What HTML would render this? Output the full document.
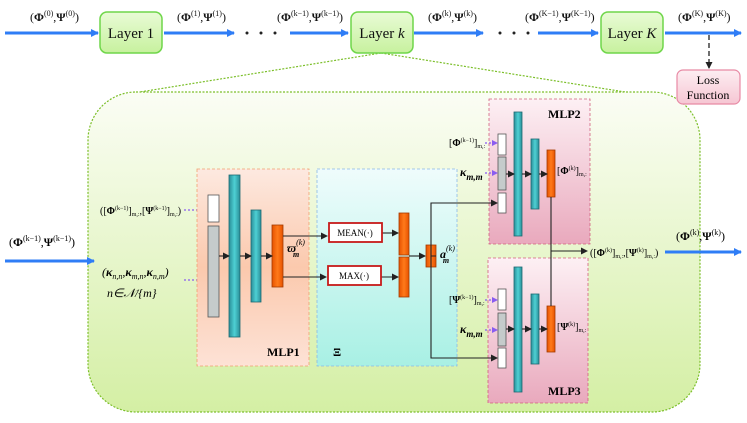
<!DOCTYPE html>
<html><head><meta charset="utf-8"><style>
body{margin:0;background:#fff;}
svg{display:block;font-family:"Liberation Serif",serif;}
</style></head><body>
<svg width="747" height="423" viewBox="0 0 747 423" xmlns="http://www.w3.org/2000/svg">
<defs>
<marker id="ab" markerWidth="8" markerHeight="8" refX="7" refY="4" orient="auto" markerUnits="userSpaceOnUse"><path d="M0,0 L8,4 L0,8 z" fill="#2f7df6"/></marker>
<marker id="ak" markerWidth="7" markerHeight="7" refX="6" refY="3.5" orient="auto" markerUnits="userSpaceOnUse"><path d="M0,0 L7,3.5 L0,7 z" fill="#222"/></marker>
<marker id="ap" markerWidth="6" markerHeight="6" refX="5" refY="3" orient="auto" markerUnits="userSpaceOnUse"><path d="M0,0 L6,3 L0,6 z" fill="#8a5cf0"/></marker>
<linearGradient id="gbig" x1="0" y1="0" x2="0" y2="1"><stop offset="0" stop-color="#fbfdf5"/><stop offset="1" stop-color="#d4efa4"/></linearGradient>
<linearGradient id="glayer" x1="0" y1="0" x2="0" y2="1"><stop offset="0" stop-color="#e9fbd6"/><stop offset="1" stop-color="#c7f19e"/></linearGradient>
<linearGradient id="gmlp1" x1="0" y1="0" x2="0" y2="1"><stop offset="0" stop-color="#fde9e0"/><stop offset="0.5" stop-color="#fbc9ad"/><stop offset="1" stop-color="#fde2d6"/></linearGradient>
<linearGradient id="gxi" x1="0" y1="0" x2="0" y2="1"><stop offset="0" stop-color="#effcfc"/><stop offset="1" stop-color="#a8f0e4"/></linearGradient>
<linearGradient id="gmlp2" x1="0" y1="0" x2="0" y2="1"><stop offset="0" stop-color="#fdf0f4"/><stop offset="1" stop-color="#e9a9bd"/></linearGradient>
<linearGradient id="gteal" x1="0" y1="0" x2="1" y2="0"><stop offset="0" stop-color="#2a8e98"/><stop offset="0.5" stop-color="#4ed0d4"/><stop offset="1" stop-color="#2a8e98"/></linearGradient>
<linearGradient id="gor" x1="0" y1="0" x2="1" y2="0"><stop offset="0" stop-color="#e65200"/><stop offset="0.5" stop-color="#ff7a1a"/><stop offset="1" stop-color="#e65200"/></linearGradient>
<linearGradient id="gloss" x1="0" y1="0" x2="0" y2="1"><stop offset="0" stop-color="#fdeef2"/><stop offset="1" stop-color="#f6c6d3"/></linearGradient>
</defs>

<line x1="381" y1="53" x2="140" y2="92" stroke="#7cbf2a" stroke-width="1.2" stroke-dasharray="2,1.5"/>
<line x1="381" y1="53" x2="625" y2="92" stroke="#7cbf2a" stroke-width="1.2" stroke-dasharray="2,1.5"/>
<rect x="88" y="92" width="612" height="320" rx="48" fill="url(#gbig)" stroke="#7cbf2a" stroke-width="1.2" stroke-dasharray="2,1.5"/>

<g stroke="#2f7df6" stroke-width="3" marker-end="url(#ab)">
<line x1="5" y1="33" x2="98" y2="33"/>
<line x1="164" y1="33" x2="234" y2="33"/>
<line x1="290" y1="33" x2="348" y2="33"/>
<line x1="414" y1="33" x2="483" y2="33"/>
<line x1="538" y1="33" x2="598" y2="33"/>
<line x1="665" y1="33" x2="741" y2="33"/>
</g>
<g fill="#222"><circle cx="247" cy="33" r="1.5"/><circle cx="261" cy="33" r="1.5"/><circle cx="275" cy="33" r="1.5"/><circle cx="500" cy="33" r="1.5"/><circle cx="514" cy="33" r="1.5"/><circle cx="528" cy="33" r="1.5"/></g>
<g fill="url(#glayer)" stroke="#6fd64a" stroke-width="1.5">
<rect x="100" y="12" width="62" height="41" rx="7"/>
<rect x="351" y="12" width="62" height="41" rx="7"/>
<rect x="601" y="12" width="62" height="41" rx="7"/>
</g>
<g font-size="15" text-anchor="middle" fill="#111">
<text x="131" y="38">Layer 1</text>
<text x="382" y="38">Layer <tspan font-style="italic">k</tspan></text>
<text x="632" y="38">Layer <tspan font-style="italic">K</tspan></text>
</g>
<g font-size="12" fill="#111">
<text x="30" y="21">(<tspan font-weight="bold">Φ</tspan><tspan font-size="8" dy="-5">(0)</tspan><tspan dy="5">,</tspan><tspan font-weight="bold">Ψ</tspan><tspan font-size="8" dy="-5">(0)</tspan><tspan dy="5">)</tspan></text>
<text x="177" y="21">(<tspan font-weight="bold">Φ</tspan><tspan font-size="8" dy="-5">(1)</tspan><tspan dy="5">,</tspan><tspan font-weight="bold">Ψ</tspan><tspan font-size="8" dy="-5">(1)</tspan><tspan dy="5">)</tspan></text>
<text x="277" y="21">(<tspan font-weight="bold">Φ</tspan><tspan font-size="8" dy="-5">(k−1)</tspan><tspan dy="5">,</tspan><tspan font-weight="bold">Ψ</tspan><tspan font-size="8" dy="-5">(k−1)</tspan><tspan dy="5">)</tspan></text>
<text x="428" y="21">(<tspan font-weight="bold">Φ</tspan><tspan font-size="8" dy="-5">(k)</tspan><tspan dy="5">,</tspan><tspan font-weight="bold">Ψ</tspan><tspan font-size="8" dy="-5">(k)</tspan><tspan dy="5">)</tspan></text>
<text x="525" y="21">(<tspan font-weight="bold">Φ</tspan><tspan font-size="8" dy="-5">(K−1)</tspan><tspan dy="5">,</tspan><tspan font-weight="bold">Ψ</tspan><tspan font-size="8" dy="-5">(K−1)</tspan><tspan dy="5">)</tspan></text>
<text x="678" y="21">(<tspan font-weight="bold">Φ</tspan><tspan font-size="8" dy="-5">(K)</tspan><tspan dy="5">,</tspan><tspan font-weight="bold">Ψ</tspan><tspan font-size="8" dy="-5">(K)</tspan><tspan dy="5">)</tspan></text>
</g>
<line x1="709" y1="35" x2="709" y2="68" stroke="#222" stroke-width="1.3" stroke-dasharray="5,3" marker-end="url(#ak)"/>
<rect x="677" y="70" width="63" height="34" rx="6" fill="url(#gloss)" stroke="#e88aa5" stroke-width="1.2"/>
<text x="708" y="84" font-size="12" text-anchor="middle">Loss</text>
<text x="708" y="99" font-size="12" text-anchor="middle">Function</text>

<line x1="5" y1="261" x2="94" y2="261" stroke="#2f7df6" stroke-width="3" marker-end="url(#ab)"/>
<text x="9" y="246" font-size="12">(<tspan font-weight="bold">Φ</tspan><tspan font-size="8" dy="-5">(k−1)</tspan><tspan dy="5">,</tspan><tspan font-weight="bold">Ψ</tspan><tspan font-size="8" dy="-5">(k−1)</tspan><tspan dy="5">)</tspan></text>
<text x="100" y="214" font-size="10">([<tspan font-weight="bold">Φ</tspan><tspan font-size="6" dy="-4">(k−1)</tspan><tspan dy="4">]</tspan><tspan font-size="6" dy="2">m,:</tspan><tspan dy="-2">,[</tspan><tspan font-weight="bold">Ψ</tspan><tspan font-size="6" dy="-4">(k−1)</tspan><tspan dy="4">]</tspan><tspan font-size="6" dy="2">m,:</tspan><tspan dy="-2">)</tspan></text>
<text x="102" y="276" font-size="12" font-style="italic">(<tspan font-weight="bold">κ</tspan><tspan font-size="8" dy="3">n,n</tspan><tspan dy="-3">,</tspan><tspan font-weight="bold">κ</tspan><tspan font-size="8" dy="3">m,n</tspan><tspan dy="-3">,</tspan><tspan font-weight="bold">κ</tspan><tspan font-size="8" dy="3">n,m</tspan><tspan dy="-3">)</tspan></text>
<text x="107" y="297" font-size="12" font-style="italic">n∈𝒩/{m}</text>
<line x1="184" y1="210" x2="206" y2="210" stroke="#8a5cf0" stroke-width="1.2" stroke-dasharray="2,2" marker-end="url(#ap)"/>
<line x1="184" y1="280" x2="206" y2="280" stroke="#8a5cf0" stroke-width="1.2" stroke-dasharray="2,2" marker-end="url(#ap)"/>

<rect x="197" y="169" width="112" height="197" fill="url(#gmlp1)" stroke="#f0a070" stroke-width="0.8" stroke-dasharray="3,2"/>
<rect x="208" y="195" width="11" height="27" fill="#fff" stroke="#555" stroke-width="0.8"/>
<rect x="208" y="226" width="11" height="91" fill="#c5cbcb" stroke="#555" stroke-width="0.8"/>
<rect x="229" y="175" width="11" height="162" fill="url(#gteal)" stroke="#1d6a72" stroke-width="0.8"/>
<rect x="251" y="210" width="10" height="92" fill="url(#gteal)" stroke="#1d6a72" stroke-width="0.8"/>
<rect x="272" y="225" width="11" height="62" fill="url(#gor)" stroke="#a33a00" stroke-width="0.8"/>
<g stroke="#222" stroke-width="1.1" marker-end="url(#ak)">
<line x1="219" y1="256" x2="229" y2="256"/>
<line x1="240" y1="256" x2="251" y2="256"/>
<line x1="261" y1="256" x2="272" y2="256"/>
</g>
<text x="287" y="252" font-size="12" font-style="italic" font-weight="bold">ϖ<tspan font-size="8" dy="-7" font-weight="normal">(k)</tspan><tspan font-size="8" dx="-12" dy="12">m</tspan></text>
<text x="267" y="356" font-size="12" font-weight="bold">MLP1</text>

<rect x="317" y="169" width="140" height="197" fill="url(#gxi)" stroke="#8ab8e6" stroke-width="0.8" stroke-dasharray="3,2"/>
<text x="333" y="356" font-size="12" font-weight="bold">Ξ</text>
<g stroke="#222" stroke-width="1.1" fill="none">
<polyline points="283,236 327,236" marker-end="url(#ak)"/>
<polyline points="283,277 326,277" marker-end="url(#ak)"/>
<line x1="382" y1="233" x2="398" y2="233" marker-end="url(#ak)"/>
<line x1="381" y1="277" x2="398" y2="277" marker-end="url(#ak)"/>
<line x1="409" y1="256" x2="425" y2="256" marker-end="url(#ak)"/>
</g>
<rect x="329" y="223" width="53" height="19" fill="#fff" stroke="#c61a1a" stroke-width="1.8"/>
<rect x="328" y="266" width="53" height="19" fill="#fff" stroke="#c61a1a" stroke-width="1.8"/>
<text x="355" y="236" font-size="9" text-anchor="middle">MEAN(·)</text>
<text x="354" y="279" font-size="9" text-anchor="middle">MAX(·)</text>
<rect x="399" y="213" width="10" height="42" fill="url(#gor)" stroke="#a33a00" stroke-width="0.8"/>
<rect x="399" y="257" width="10" height="40" fill="url(#gor)" stroke="#a33a00" stroke-width="0.8"/>
<rect x="426" y="245" width="10" height="22" fill="url(#gor)" stroke="#a33a00" stroke-width="0.8"/>
<text x="440" y="258" font-size="12" font-style="italic" font-weight="bold">a<tspan font-size="8" dy="-7" font-weight="normal">(k)</tspan><tspan font-size="8" dx="-12" dy="12">m</tspan></text>

<rect x="489" y="99" width="101" height="145" fill="url(#gmlp2)" stroke="#d0607e" stroke-width="0.8" stroke-dasharray="3,2"/>
<rect x="488" y="258" width="100" height="145" fill="url(#gmlp2)" stroke="#d0607e" stroke-width="0.8" stroke-dasharray="3,2"/>
<text x="548" y="118" font-size="12" font-weight="bold">MLP2</text>
<text x="548" y="395" font-size="12" font-weight="bold">MLP3</text>
<g stroke-width="0.8">
<rect x="498" y="134" width="8" height="21" fill="#fff" stroke="#555"/>
<rect x="498" y="157" width="8" height="33" fill="#c5cbcb" stroke="#555"/>
<rect x="498" y="193" width="8" height="20" fill="#fff" stroke="#555"/>
<rect x="514" y="112" width="8" height="124" fill="url(#gteal)" stroke="#1d6a72"/>
<rect x="531" y="139" width="8" height="70" fill="url(#gteal)" stroke="#1d6a72"/>
<rect x="547" y="150" width="8" height="47" fill="url(#gor)" stroke="#a33a00"/>
<rect x="498" y="289" width="8" height="21" fill="#fff" stroke="#555"/>
<rect x="498" y="313" width="8" height="33" fill="#c5cbcb" stroke="#555"/>
<rect x="498" y="348" width="8" height="20" fill="#fff" stroke="#555"/>
<rect x="514" y="267" width="8" height="125" fill="url(#gteal)" stroke="#1d6a72"/>
<rect x="531" y="294" width="8" height="70" fill="url(#gteal)" stroke="#1d6a72"/>
<rect x="547" y="306" width="8" height="46" fill="url(#gor)" stroke="#a33a00"/>
</g>
<g stroke="#222" stroke-width="1.1" fill="none">
<line x1="506" y1="174" x2="514" y2="174" marker-end="url(#ak)"/>
<line x1="522" y1="174" x2="531" y2="174" marker-end="url(#ak)"/>
<line x1="539" y1="174" x2="547" y2="174" marker-end="url(#ak)"/>
<line x1="506" y1="329" x2="514" y2="329" marker-end="url(#ak)"/>
<line x1="522" y1="329" x2="531" y2="329" marker-end="url(#ak)"/>
<line x1="539" y1="329" x2="547" y2="329" marker-end="url(#ak)"/>
<polyline points="436,256 431,256 431,203 497,203" marker-end="url(#ak)"/>
<polyline points="431,256 431,358 497,358" marker-end="url(#ak)"/>
<line x1="551" y1="197" x2="551" y2="306"/>
<line x1="551" y1="251" x2="587" y2="251" marker-end="url(#ak)"/>
</g>
<g stroke="#8a5cf0" stroke-width="1.2" stroke-dasharray="2,2" marker-end="url(#ap)">
<line x1="485" y1="143" x2="497" y2="143"/>
<line x1="485" y1="173" x2="497" y2="173"/>
<line x1="485" y1="300" x2="497" y2="300"/>
<line x1="485" y1="330" x2="497" y2="330"/>
</g>
<text x="449" y="146" font-size="10">[<tspan font-weight="bold">Φ</tspan><tspan font-size="6" dy="-4">(k−1)</tspan><tspan dy="4">]</tspan><tspan font-size="6" dy="2">m,:</tspan></text>
<text x="449" y="303" font-size="10">[<tspan font-weight="bold">Ψ</tspan><tspan font-size="6" dy="-4">(k−1)</tspan><tspan dy="4">]</tspan><tspan font-size="6" dy="2">m,:</tspan></text>
<text x="460" y="176" font-size="12" font-style="italic" font-weight="bold">κ<tspan font-size="9" dy="4">m,m</tspan></text>
<text x="460" y="333" font-size="12" font-style="italic" font-weight="bold">κ<tspan font-size="9" dy="4">m,m</tspan></text>
<text x="557" y="174" font-size="10">[<tspan font-weight="bold">Φ</tspan><tspan font-size="6" dy="-4">(k)</tspan><tspan dy="4">]</tspan><tspan font-size="6" dy="2">m,:</tspan></text>
<text x="557" y="330" font-size="10">[<tspan font-weight="bold">Ψ</tspan><tspan font-size="6" dy="-4">(k)</tspan><tspan dy="4">]</tspan><tspan font-size="6" dy="2">m,:</tspan></text>
<text x="590" y="256" font-size="10">([<tspan font-weight="bold">Φ</tspan><tspan font-size="6" dy="-4">(k)</tspan><tspan dy="4">]</tspan><tspan font-size="6" dy="2">m,:</tspan><tspan dy="-2">,[</tspan><tspan font-weight="bold">Ψ</tspan><tspan font-size="6" dy="-4">(k)</tspan><tspan dy="4">]</tspan><tspan font-size="6" dy="2">m,:</tspan><tspan dy="-2">)</tspan></text>
<line x1="665" y1="252" x2="741" y2="252" stroke="#2f7df6" stroke-width="3" marker-end="url(#ab)"/>
<text x="676" y="240" font-size="12">(<tspan font-weight="bold">Φ</tspan><tspan font-size="8" dy="-5">(k)</tspan><tspan dy="5">,</tspan><tspan font-weight="bold">Ψ</tspan><tspan font-size="8" dy="-5">(k)</tspan><tspan dy="5">)</tspan></text>
</svg>
</body></html>
